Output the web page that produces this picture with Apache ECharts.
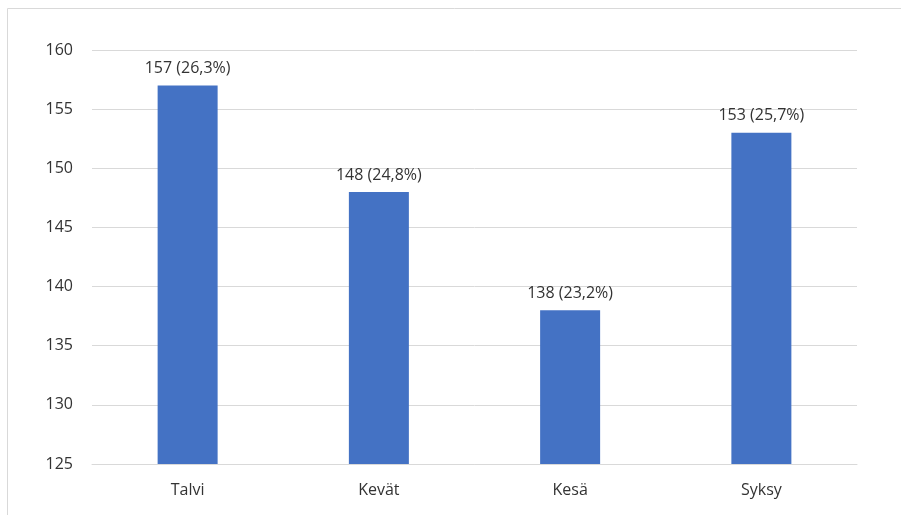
<!DOCTYPE html>
<html><head><meta charset="utf-8">
<script src="https://cdn.jsdelivr.net/npm/echarts@6/dist/echarts.min.js"></script>
<style>html,body{margin:0;padding:0;background:#fff}#c{width:901px;height:515px}</style>
</head><body><div id="c"></div>
<script>
const categories = ["Talvi", "Kevät", "Kesä", "Syksy"];
const values = [157, 148, 138, 153];
const percents = ["26,3%", "24,8%", "23,2%", "25,7%"];
const yMin = 125, yMax = 160, yStep = 5;

const chart = echarts.init(document.getElementById('c'), null, {renderer: 'canvas'});
const font = '"Open Sans", "Noto Sans", sans-serif';
const txt = '#333333';
chart.setOption({
  animation: false,
  graphic: [{type: 'rect', shape: {x: 7.5, y: 8.5, width: 1000, height: 1000},
    style: {fill: 'none', stroke: '#D9D9D9', lineWidth: 1}, silent: true}],
  grid: {left: 92, right: 44, top: 50, bottom: 51, containLabel: false},
  xAxis: {type: 'category', data: categories,
    axisLine: {show: true, lineStyle: {color: '#D9D9D9'}},
    axisTick: {show: false},
    axisLabel: {color: txt, fontFamily: font, fontSize: 16, margin: 18}},
  yAxis: {type: 'value', min: yMin, max: yMax, interval: yStep,
    axisLine: {show: false}, axisTick: {show: false},
    splitLine: {lineStyle: {color: '#D9D9D9'}},
    axisLabel: {color: txt, fontFamily: font, fontSize: 16, margin: 19}},
  series: [{type: 'bar', data: values, barWidth: 60,
    itemStyle: {color: '#4472C4'},
    label: {show: true, position: 'top', distance: 9, color: txt, fontFamily: font, fontSize: 16,
      formatter: p => p.value + ' (' + percents[p.dataIndex] + ')'}}]
});
</script></body></html>
